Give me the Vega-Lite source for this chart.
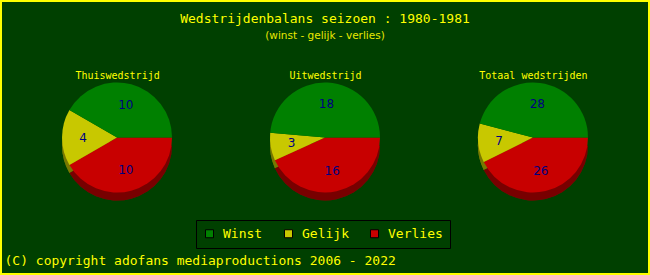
{
  "$schema": "https://vega.github.io/schema/vega-lite/v6.json",
  "width": 650,
  "height": 275,
  "autosize": {"type": "fit", "contains": "padding"},
  "padding": 1,
  "background": "#004000",
  "config": {
    "view": {"stroke": "#ffff00", "strokeWidth": 2},
    "font": "DejaVu Sans Mono"
  },
  "title": {
    "text": "Wedstrijdenbalans seizoen : 1980-1981",
    "subtitle": "(winst -  gelijk - verlies)",
    "anchor": "middle",
    "frame": "group",
    "offset": -40,
    "font": "DejaVu Sans Mono",
    "fontSize": 13,
    "fontWeight": "normal",
    "color": "#ffff00",
    "subtitleFont": "DejaVu Sans",
    "subtitleFontSize": 10.5,
    "subtitleColor": "#e8e800",
    "subtitlePadding": 5
  },
  "data": {
    "values": [
      {"panel": "Thuiswedstrijd", "cat": "Verlies", "v": 10, "k": 1},
      {"panel": "Thuiswedstrijd", "cat": "Gelijk", "v": 4, "k": 2},
      {"panel": "Thuiswedstrijd", "cat": "Winst", "v": 10, "k": 3},
      {"panel": "Uitwedstrijd", "cat": "Verlies", "v": 16, "k": 1},
      {"panel": "Uitwedstrijd", "cat": "Gelijk", "v": 3, "k": 2},
      {"panel": "Uitwedstrijd", "cat": "Winst", "v": 18, "k": 3},
      {"panel": "Totaal wedstrijden", "cat": "Verlies", "v": 26, "k": 1},
      {"panel": "Totaal wedstrijden", "cat": "Gelijk", "v": 7, "k": 2},
      {"panel": "Totaal wedstrijden", "cat": "Winst", "v": 28, "k": 3}
    ]
  },
  "transform": [
    {"stack": "v", "groupby": ["panel"], "sort": [{"field": "k", "order": "ascending"}], "offset": "normalize", "as": ["t0", "t1"]},
    {"calculate": "(datum.t0 + datum.t1) / 2", "as": "tm"}
  ],
  "encoding": {
    "theta": {"field": "t0", "type": "quantitative", "scale": {"domain": [0, 1], "range": [1.5707963, 7.8539816]}},
    "theta2": {"field": "t1"}
  },
  "layer": [
    {
      "mark": {"type": "arc", "radius": 55, "yOffset": 8},
      "encoding": {
        "x": {
          "field": "panel", "type": "nominal",
          "scale": {"type": "point", "padding": 0.558, "domain": ["Thuiswedstrijd", "Uitwedstrijd", "Totaal wedstrijden"]},
          "axis": {
            "orient": "bottom", "offset": -10, "labels": false, "ticks": false, "domain": false, "grid": false,
            "title": "(C) copyright adofans mediaproductions 2006 - 2022",
            "titleFont": "DejaVu Sans Mono", "titleFontSize": 13, "titleFontWeight": "normal", "titleColor": "#ffff00",
            "titleAnchor": "start", "titleAlign": "left", "titleBaseline": "alphabetic", "titlePadding": 0, "titleX": 3
          }
        },
        "color": {
          "field": "cat", "type": "nominal",
          "scale": {"domain": ["Winst", "Gelijk", "Verlies"], "range": ["#008000", "#c8c800", "#c80000"]},
          "legend": {
            "orient": "none", "legendX": 195, "legendY": 219, "direction": "horizontal",
            "title": null, "symbolType": "square", "symbolSize": 64, "symbolStrokeColor": "#000000", "symbolStrokeWidth": 1,
            "labelFont": "DejaVu Sans Mono", "labelFontSize": 13, "labelColor": "#ffff00", "labelOffset": 7,
            "strokeColor": "#000000", "padding": 7, "columnPadding": 19
          }
        }
      }
    },
    {
      "mark": {"type": "arc", "radius": 55, "yOffset": 8, "color": "#000000", "opacity": 0.4},
      "encoding": {
        "x": {"field": "panel", "type": "nominal", "axis": null}
      }
    },
    {
      "mark": {"type": "arc", "radius": 55},
      "encoding": {
        "x": {
          "field": "panel", "type": "nominal",
          "axis": {
            "orient": "top", "offset": -77, "title": null, "domain": false, "ticks": false, "tickSize": 0, "grid": false,
            "labelPadding": 0, "labelFont": "DejaVu Sans Mono", "labelFontSize": 10, "labelColor": "#ffff00", "labelBaseline": "alphabetic", "labelAngle": 0
          }
        },
        "color": {"field": "cat", "type": "nominal"}
      }
    },
    {
      "mark": {"type": "text", "radius": 34, "font": "DejaVu Sans", "fontSize": 12, "color": "#000080"},
      "encoding": {
        "x": {"field": "panel", "type": "nominal", "axis": null},
        "theta": {"field": "tm", "type": "quantitative"},
        "theta2": null,
        "text": {"field": "v", "type": "quantitative"}
      }
    }
  ],
  "resolve": {"axis": {"x": "independent"}}
}
